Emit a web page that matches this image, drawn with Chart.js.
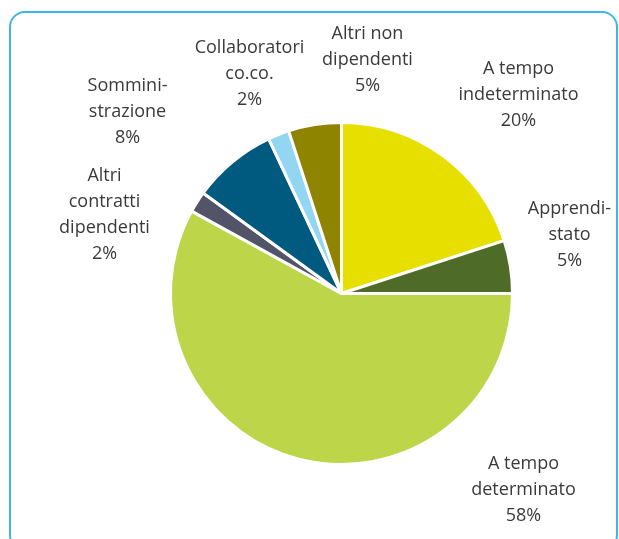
<!DOCTYPE html>
<html lang="it">
<head>
    <meta charset="UTF-8">
    <title>Contratti</title>
    <style>
        html, body {
            margin: 0;
            padding: 0;
            background: #ffffff;
        }
        #wrap {
            position: relative;
            width: 619px;
            height: 539px;
            overflow: hidden;
        }
        #frame {
            position: absolute;
            left: 9px;
            top: 11px;
            width: 609px;
            height: 540px;
            border: 2px solid #3DB7EA;
            border-radius: 16px;
            box-sizing: border-box;
        }
        #pieChart {
            position: absolute;
            left: 0;
            top: 0;
        }
    </style>
    <script src="https://cdn.jsdelivr.net/npm/chart.js"></script>
</head>
<body>
    <div id="wrap">
        <div id="frame"></div>
        <canvas id="pieChart" width="619" height="539"></canvas>
    </div>

    <script>
        // categories (label lines as printed in the chart)
        const categories = [
            ['A tempo', 'indeterminato'],
            ['Apprendi-', 'stato'],
            ['A tempo', 'determinato'],
            ['Altri', 'contratti', 'dipendenti'],
            ['Sommini-', 'strazione'],
            ['Collaboratori', 'co.co.'],
            ['Altri non', 'dipendenti']
        ];
        const shares = [20, 5, 58, 2, 8, 2, 5];
        const sliceColors = ['#E6DF00', '#4F6B28', '#BDD549', '#545468', '#005A80', '#93D6F2', '#8E8400'];

        // label centre of the first line, relative to the pie centre
        const labelPos = [
            [177, -225],
            [228, -85],
            [182, 170],
            [-237, -118],
            [-214, -208],
            [-92, -246],
            [26, -260]
        ];
        const lineHeight = 26;

        const outsideLabels = {
            id: 'outsideLabels',
            afterDraw(chart) {
                const ctx = chart.ctx;
                const arc = chart.getDatasetMeta(0).data[0];
                const cx = arc.x;
                const cy = arc.y;
                ctx.save();
                ctx.font = '18px "Open Sans"';
                ctx.fillStyle = '#3A3A3A';
                ctx.textAlign = 'center';
                ctx.textBaseline = 'middle';
                categories.forEach((lines, i) => {
                    const all = lines.concat([shares[i] + '%']);
                    all.forEach((txt, j) => {
                        ctx.fillText(txt, cx + labelPos[i][0], cy + labelPos[i][1] + j * lineHeight);
                    });
                });
                ctx.restore();
            }
        };

        new Chart(document.getElementById('pieChart'), {
            type: 'pie',
            data: {
                labels: categories.map(c => c.join(' ')),
                datasets: [{
                    data: shares,
                    backgroundColor: sliceColors,
                    borderColor: '#ffffff',
                    borderWidth: 3,
                    hoverOffset: 0
                }]
            },
            options: {
                responsive: false,
                animation: false,
                layout: {
                    padding: { left: 169, right: 105, top: 121, bottom: 73 }
                },
                plugins: {
                    legend: { display: false },
                    tooltip: { enabled: false }
                }
            },
            plugins: [outsideLabels]
        });
    </script>
</body>
</html>
